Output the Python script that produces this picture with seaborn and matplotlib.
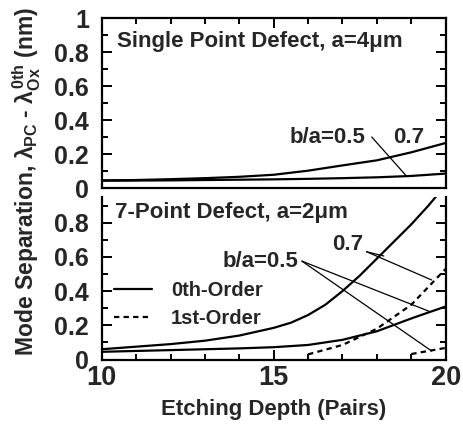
import numpy as np
import pandas as pd
import seaborn as sns
import matplotlib
matplotlib.use("Agg")
import matplotlib.pyplot as plt
from matplotlib.ticker import MultipleLocator, FixedLocator

# ---------------- data ----------------
depth = [10, 11, 12, 13, 14, 15, 16, 17, 18, 19, 20]

# Single point defect, a=4um (0th-order)
single_07 = [0.045, 0.047, 0.052, 0.058, 0.066, 0.078, 0.102, 0.133, 0.163, 0.21, 0.265]
single_05 = [0.043, 0.044, 0.045, 0.047, 0.049, 0.051, 0.054, 0.058, 0.063, 0.071, 0.085]

# 7-point defect, a=2um
depth_0th_07 = [10, 11, 12, 13, 14, 15, 15.5, 16, 16.5, 17, 17.5, 18, 18.5, 19, 19.5, 20]
seven_0th_07 = [0.06, 0.075, 0.09, 0.11, 0.14, 0.185, 0.215, 0.26, 0.32, 0.40, 0.49,
                0.59, 0.69, 0.79, 0.90, 1.02]
depth_0th_05 = [10, 11, 12, 13, 14, 15, 16, 17, 18, 19, 20]
seven_0th_05 = [0.045, 0.05, 0.055, 0.06, 0.065, 0.072, 0.085, 0.115, 0.165, 0.24, 0.31]
depth_1st_07 = [16, 17, 18, 19, 20]
seven_1st_07 = [0.03, 0.085, 0.18, 0.32, 0.53]
depth_1st_05 = [19, 20]
seven_1st_05 = [0.032, 0.068]

yticks_top = [0, 0.2, 0.4, 0.6, 0.8, 1.0]
ylabels_top = ["0", "0.2", "0.4", "0.6", "0.8", "1"]
yticks_bot = [0, 0.2, 0.4, 0.6, 0.8]
ylabels_bot = ["0", "0.2", "0.4", "0.6", "0.8"]
xticks = [10, 15, 20]

# ---------------- style ----------------
sns.set_theme(style="ticks")
plt.rcParams["font.family"] = ["Liberation Sans", "DejaVu Sans"]
plt.rcParams["font.weight"] = "bold"
plt.rcParams["mathtext.fontset"] = "custom"
plt.rcParams["mathtext.rm"] = "Liberation Sans:bold"
plt.rcParams["mathtext.it"] = "Liberation Sans:bold"
plt.rcParams["mathtext.bf"] = "Liberation Sans:bold"

fig = plt.figure(figsize=(4.63, 4.25), dpi=100)
L, R = 0.2197, 0.9626
ax1 = fig.add_axes([L, 0.5576, R - L, 0.9576 - 0.5576])
ax2 = fig.add_axes([L, 0.1541, R - L, 0.5365 - 0.1541])

lw = 1.6
dash = (0, (2.4, 1.9))

sns.lineplot(x=depth, y=single_07, ax=ax1, color="black", lw=lw)
sns.lineplot(x=depth, y=single_05, ax=ax1, color="black", lw=lw)

sns.lineplot(x=depth_0th_07, y=seven_0th_07, ax=ax2, color="black", lw=lw, label="0th-Order")
sns.lineplot(x=depth_0th_05, y=seven_0th_05, ax=ax2, color="black", lw=lw)
sns.lineplot(x=depth_1st_07, y=seven_1st_07, ax=ax2, color="black", lw=lw,
             linestyle=dash, label="1st-Order")
sns.lineplot(x=depth_1st_05, y=seven_1st_05, ax=ax2, color="black", lw=lw, linestyle=dash)

for ax in (ax1, ax2):
    ax.set_xlim(10, 20)
    ax.xaxis.set_major_locator(FixedLocator(xticks))
    ax.xaxis.set_minor_locator(MultipleLocator(1))
    ax.yaxis.set_minor_locator(MultipleLocator(0.1))
    for s in ax.spines.values():
        s.set_linewidth(1.6)
        s.set_color("black")
    ax.tick_params(which="both", direction="in", color="black", width=1.4)
    ax.tick_params(which="major", length=7)
    ax.tick_params(which="minor", length=4)
    ax.tick_params(axis="y", labelsize=18, pad=9)
    ax.tick_params(axis="x", labelsize=19.5, pad=4)
    ax.set_xlabel("")
    ax.set_ylabel("")

ax1.set_ylim(0, 1.0)
ax1.set_yticks(yticks_top)
ax1.set_yticklabels(ylabels_top)
ax1.tick_params(axis="both", which="both", left=True, right=True, top=True, bottom=False,
                labelbottom=False)

ax2.set_ylim(0, 0.95)
ax2.set_yticks(yticks_bot)
ax2.set_yticklabels(ylabels_bot)
ax2.spines["top"].set_visible(False)
ax2.tick_params(axis="both", which="both", left=True, right=True, top=False, bottom=True)

for lab in ax1.get_yticklabels() + ax2.get_yticklabels() + ax2.get_xticklabels():
    lab.set_fontweight("bold")

txt_fs = 16
ax1.text(0.045, 0.862, "Single Point Defect, a=4\u03bcm", transform=ax1.transAxes,
         fontsize=txt_fs, fontweight="bold", va="center", ha="left")
ax2.text(0.04, 0.905, "7-Point Defect, a=2\u03bcm", transform=ax2.transAxes,
         fontsize=txt_fs, fontweight="bold", va="center", ha="left")

# annotations, top panel
ax1.text(16.55, 0.30, "b/a=0.5", fontsize=txt_fs, fontweight="bold", ha="center", va="center")
ax1.text(18.93, 0.30, "0.7", fontsize=txt_fs, fontweight="bold", ha="center", va="center")
ax1.plot([17.85, 18.87], [0.30, 0.068], color="black", lw=0.9)

# annotations, bottom panel
ax2.text(14.63, 0.572, "b/a=0.5", fontsize=txt_fs, fontweight="bold", ha="center", va="center")
ax2.text(17.15, 0.672, "0.7", fontsize=txt_fs, fontweight="bold", ha="center", va="center")
ax2.plot([15.82, 19.54], [0.575, 0.28], color="black", lw=0.9)
ax2.plot([15.82, 19.59], [0.575, 0.05], color="black", lw=0.9)
ax2.plot([17.7, 19.59], [0.63, 0.465], color="black", lw=0.9)
ax2.plot([17.7, 18.2], [0.63, 0.605], color="black", lw=0.9)

leg = ax2.legend(loc="upper left", bbox_to_anchor=(0.035, 0.48), frameon=False,
                 borderaxespad=0, borderpad=0, handlelength=1.9, handletextpad=0.95,
                 labelspacing=0.4, prop={"size": 14.5, "weight": "bold"})
for h in leg.get_lines():
    h.set_linewidth(1.6)

ax2.set_xlabel("Etching Depth (Pairs)", fontsize=16, fontweight="bold", labelpad=6)
fig.text(0.058, 0.572,
         r"Mode Separation, $\lambda_{PC}$ - $\lambda^{0th}_{Ox}$ (nm)",
         rotation=90, ha="center", va="center", fontsize=16.5, fontweight="bold")

fig.savefig("out.png", dpi=100)
